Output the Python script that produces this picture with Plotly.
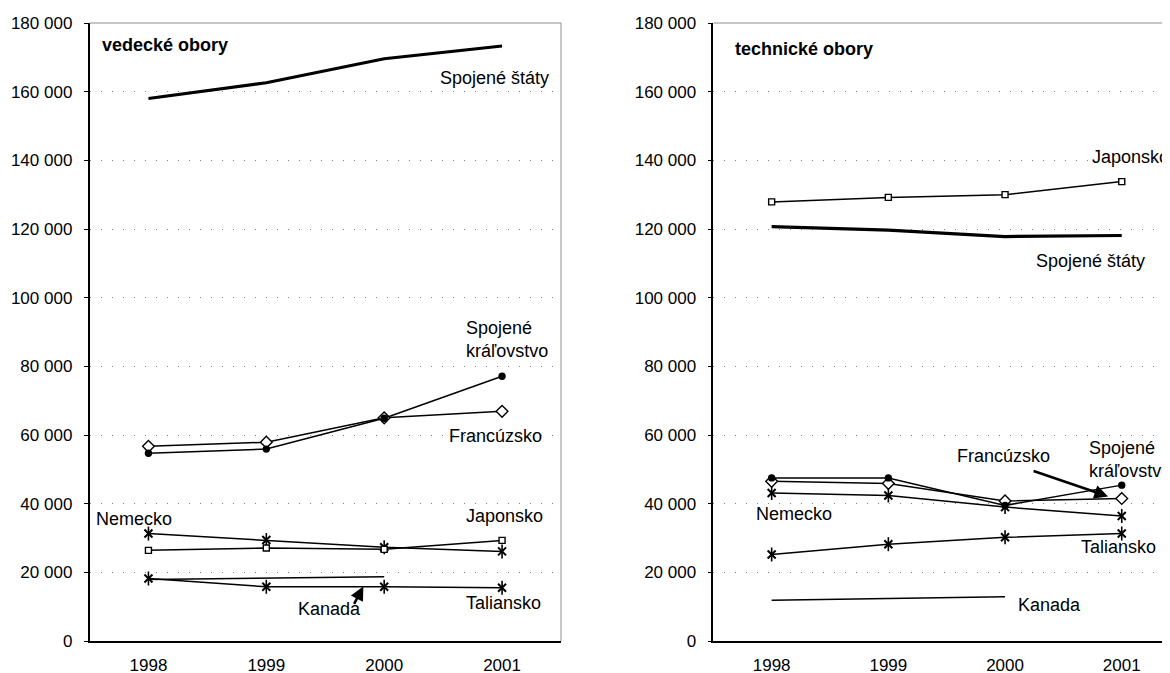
import plotly.graph_objects as go
from plotly.subplots import make_subplots

# ---------------- data ----------------
years = ["1998", "1999", "2000", "2001"]

# vedecké obory (science)
sci_usa = [158000, 162600, 169600, 173300]
sci_uk = [54700, 55900, 64900, 77100]
sci_fr = [56700, 57900, 65000, 66900]
sci_de = [31300, 29400, 27300, 26100]
sci_jp = [26400, 27100, 26700, 29300]
sci_it = [18200, 15800, 15800, 15500]
sci_ca = [17900, 18300, 18700, None]

# technické obory (engineering)
eng_usa = [120700, 119700, 117800, 118100]
eng_jp = [127900, 129200, 130000, 133800]
eng_uk = [47500, 47500, 39500, 45400]
eng_fr = [46500, 45900, 40800, 41500]
eng_de = [43100, 42400, 39000, 36400]
eng_it = [25200, 28200, 30200, 31300]
eng_ca = [11900, 12400, 12900, None]

y_ticks = [0, 20000, 40000, 60000, 80000, 100000, 120000, 140000, 160000, 180000]
y_ticktext = ["0", "20 000", "40 000", "60 000", "80 000", "100 000",
              "120 000", "140 000", "160 000", "180 000"]

panel_titles = ["vedecké obory", "technické obory"]

# ---------------- figure ----------------
FONT = "Liberation Sans, Arial, sans-serif"
fig = make_subplots(rows=1, cols=2)

def add_line(vals, col, width=1.5, symbol=None, size=7, filled=False):
    marker = dict(size=size, color="black" if filled else "white",
                  line=dict(color="black", width=1.4))
    mode = "lines"
    if symbol is not None:
        mode = "lines+markers"
        marker["symbol"] = symbol
    fig.add_trace(go.Scatter(x=years, y=vals, mode=mode,
                             line=dict(color="black", width=width),
                             marker=marker, showlegend=False,
                             cliponaxis=False), row=1, col=col)

def add_star(vals, col):
    # Excel-like star: X with a vertical bar
    fig.add_trace(go.Scatter(x=years, y=vals, mode="lines+markers",
                             line=dict(color="black", width=1.5),
                             marker=dict(symbol="x-thin-open", size=8, color="black",
                                         line=dict(color="black", width=2)),
                             showlegend=False, cliponaxis=False), row=1, col=col)
    fig.add_trace(go.Scatter(x=years, y=vals, mode="markers",
                             marker=dict(symbol="line-ns-open", size=10, color="black",
                                         line=dict(color="black", width=1.6)),
                             showlegend=False, cliponaxis=False), row=1, col=col)

# left panel
add_line(sci_usa, 1, width=3.2)
add_line(sci_ca, 1)
add_star(sci_it, 1)
add_star(sci_de, 1)
add_line(sci_jp, 1, symbol="square", size=6)
add_line(sci_fr, 1, symbol="diamond", size=9)
add_line(sci_uk, 1, symbol="circle", size=6, filled=True)

# right panel
add_line(eng_usa, 2, width=3.2)
add_line(eng_ca, 2)
add_line(eng_jp, 2, symbol="square", size=6)
add_star(eng_it, 2)
add_star(eng_de, 2)
add_line(eng_fr, 2, symbol="diamond", size=9)
add_line(eng_uk, 2, symbol="circle", size=6, filled=True)

W, H = 1170, 673
OFF = 8  # page body margin
left_dom = [(89.5 - OFF) / W, (561 - OFF) / W]
right_dom = [(713.3 - OFF) / W, 1.0]

axis_common = dict(showline=True, linecolor="black", linewidth=1.5,
                   tickfont=dict(family=FONT, size=17, color="black"),
                   zeroline=False)

fig.update_xaxes(**axis_common, type="category", showgrid=False, ticks="",
                 ticklabelstandoff=8)
fig.update_xaxes(domain=left_dom, range=[-0.5, 3.5], row=1, col=1)
fig.update_xaxes(domain=right_dom, range=[-0.5, 3.482], row=1, col=2)

fig.update_yaxes(**axis_common, range=[0, 180000], tickvals=y_ticks,
                 ticktext=y_ticktext, ticks="outside", ticklen=4,
                 tickcolor="black", tickwidth=1, showgrid=True,
                 gridcolor="#808080", gridwidth=1, griddash="1px,10px",
                 ticklabelstandoff=8)

# gray top / right frame lines
for xr, yr, right in [("x domain", "y domain", True), ("x2 domain", "y2 domain", False)]:
    fig.add_shape(type="line", xref=xr, yref=yr, x0=0, x1=1, y0=1, y1=1,
                  line=dict(color="#8c8c8c", width=1))
    if right:
        fig.add_shape(type="line", xref=xr, yref=yr, x0=1, x1=1, y0=0, y1=1,
                      line=dict(color="#8c8c8c", width=1))

def label(text, x, y, xref, yref, bold=False):
    fig.add_annotation(text=f"<b>{text}</b>" if bold else text, x=x, y=y,
                       xref=xref, yref=yref, xanchor="left", yanchor="middle",
                       showarrow=False, align="left",
                       font=dict(family=FONT, size=18, color="black"))

# left panel labels
label(panel_titles[0], 0.022, 173500, "x domain", "y", bold=True)
label("Spojené štáty", 2.46, 163900, "x", "y")
label("Spojené<br>kráľovstvo", 2.68, 87700, "x", "y")
label("Francúzsko", 2.53, 59800, "x", "y")
label("Nemecko", -0.465, 35600, "x", "y")
label("Japonsko", 2.675, 36400, "x", "y")
label("Kanada", 1.25, 9200, "x", "y")
label("Taliansko", 2.68, 11200, "x", "y")

# right panel labels
label(panel_titles[1], -0.33, 172300, "x2", "y2", bold=True)
label("Japonsko", 2.725, 140900, "x2", "y2")
label("Spojené štáty", 2.245, 110800, "x2", "y2")
label("Francúzsko", 1.57, 53800, "x2", "y2")
label("Spojené<br>kráľovstvo", 2.70, 52800, "x2", "y2")
label("Nemecko", -0.155, 37100, "x2", "y2")
label("Taliansko", 2.63, 27500, "x2", "y2")
label("Kanada", 2.09, 10600, "x2", "y2")

# arrows
fig.add_annotation(text="", x=1.823, y=15900, xref="x", yref="y",
                   ax=-10, ay=19, showarrow=True, arrowhead=2, arrowsize=1.1,
                   arrowwidth=2.5, arrowcolor="black")
fig.add_annotation(text="", x=2.883, y=42100, xref="x2", yref="y2",
                   ax=-76, ay=-26, showarrow=True, arrowhead=2, arrowsize=1.1,
                   arrowwidth=2.5, arrowcolor="black")

fig.update_layout(width=W, height=H, margin=dict(l=0, r=0, t=23 - OFF, b=673 - (641.5 - OFF)),
                  plot_bgcolor="white", paper_bgcolor="white",
                  font=dict(family=FONT, color="black"), showlegend=False)

fig.write_html("out.html")
